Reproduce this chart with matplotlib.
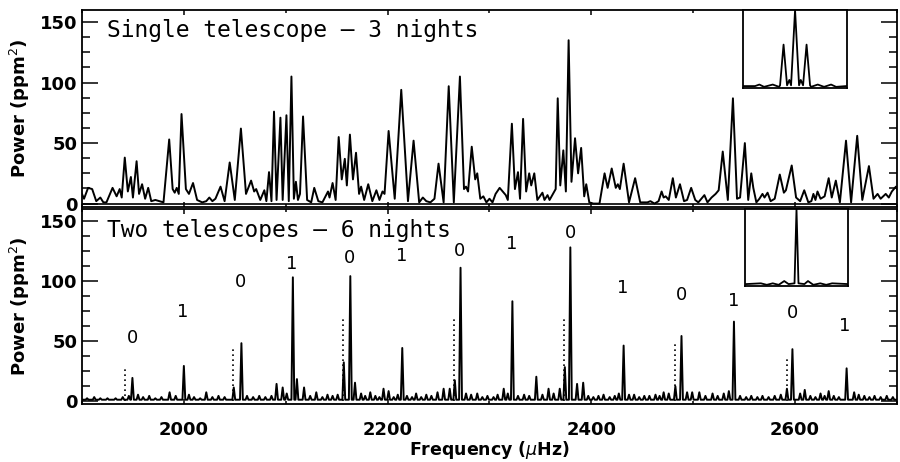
import numpy as np
import matplotlib
matplotlib.use('Agg')
import matplotlib.pyplot as plt
from matplotlib.ticker import MultipleLocator

# ==========================================
# DATA
# ==========================================
# Top panel: single telescope, 3 nights -- curve vertices (freq in uHz, power in ppm^2)
single_freq = [1900, 1902, 1906, 1910, 1914, 1918, 1921, 1924, 1930, 1934, 1937, 1939,
               1942, 1945, 1948, 1950, 1953.6, 1956, 1959, 1962, 1965, 1968, 1972, 1976,
               1980, 1985.6, 1989, 1991, 1993, 1995, 1997.7, 2002, 2005, 2009, 2013, 2018,
               2022, 2025, 2028, 2031, 2036, 2040, 2045, 2050, 2056, 2061, 2066, 2069,
               2071, 2075, 2079, 2081, 2083.6, 2086, 2088.5, 2091, 2094.8, 2097, 2100.7, 2103,
               2105.6, 2108, 2110, 2112, 2114, 2117, 2121, 2125, 2128, 2132, 2136, 2141.5,
               2143, 2146, 2149, 2152, 2155, 2158, 2160, 2163, 2166, 2169, 2172, 2174,
               2177, 2181, 2185, 2189, 2192, 2195, 2197, 2201, 2207, 2213.4, 2220, 2225.5,
               2231, 2234.6, 2238, 2242, 2246, 2250, 2255, 2260, 2265, 2271, 2275, 2277,
               2279, 2282.6, 2286, 2288, 2291, 2294, 2297, 2300, 2303, 2306, 2310, 2313,
               2316, 2318, 2322, 2325, 2328, 2330, 2333, 2336, 2339, 2341, 2344, 2347,
               2352, 2354, 2357, 2359, 2363, 2365, 2367, 2369.5, 2372.5, 2375, 2377.7, 2380.5,
               2384, 2387, 2390, 2393, 2395, 2398, 2402, 2408, 2413, 2416, 2420, 2424,
               2426, 2428, 2431.7, 2437, 2443, 2448, 2455, 2458, 2462, 2466, 2469, 2471,
               2473, 2476, 2480, 2483, 2487, 2491, 2494, 2498, 2502, 2505, 2508, 2511,
               2514, 2518, 2522, 2525, 2529, 2534, 2539, 2543, 2546, 2550.7, 2554, 2557,
               2559, 2562, 2565, 2568, 2570, 2573, 2576, 2580, 2585, 2589, 2591, 2596.7,
               2601, 2605, 2609, 2613, 2616, 2618, 2620, 2622, 2625, 2629, 2633, 2636,
               2640, 2644, 2650, 2655, 2661, 2666, 2672.5, 2677, 2681, 2684, 2689, 2692,
               2695, 2699, 2700]
single_pow = [8, 4, 13, 12, 2, 5, 1, 1, 13, 6, 12, 5,
              38, 10, 22, 5, 35, 8, 16, 4, 13, 2, 3, 2,
              1, 53, 12, 9, 13, 8, 74, 12, 8, 17, 3, 1,
              2, 5, 2, 4, 14, 2, 34, 3, 62, 8, 19, 10,
              12, 3, 11, 2, 26, 2, 76, 3, 71, 3, 73, 2,
              105, 4, 18, 3, 8, 72, 3, 1, 13, 2, 1, 10,
              5, 17, 3, 55, 20, 37, 15, 57, 20, 42, 8, 14,
              3, 16, 2, 11, 3, 10, 8, 60, 4, 94, 2, 52,
              1, 5, 2, 1, 4, 33, 1, 97, 1, 105, 12, 14,
              10, 47, 20, 25, 4, 6, 1, 4, 1, 8, 13, 10,
              7, 3, 66, 12, 26, 4, 70, 10, 25, 15, 25, 3,
              9, 3, 7, 3, 9, 12, 87, 15, 44, 10, 135, 18,
              54, 25, 46, 6, 16, 1, 0, 0, 25, 13, 29, 13,
              16, 12, 33, 1, 21, 1, 1, 2, 0, 2, 10, 5,
              6, 3, 21, 5, 16, 2, 3, 13, 3, 1, 4, 7,
              1, 5, 8, 11, 43, 3, 87, 4, 5, 50, 3, 25,
              13, 1, 4, 8, 5, 9, 2, 4, 24, 9, 11, 31.5,
              5, 2, 11, 1, 2, 8, 3, 10, 4, 6, 21, 5,
              19, 1, 52, 1, 56, 3, 31, 4, 8, 4, 8, 5,
              10, 14, 12]

# Bottom panel: two telescopes, 6 nights -- mode peaks and small noise peaks
mode_freq = [1949.5, 2000, 2056.5, 2107, 2163.4, 2214.4, 2271.6, 2322.5, 2379.4,
             2431.7, 2488.5, 2540, 2597.4, 2650.6]
mode_pow = [19, 29, 48, 103, 104, 44, 111, 83, 128, 46, 54, 66, 43, 27]
noise_freq = [1905, 1912, 1918, 1925, 1933, 1940, 1946, 1955, 1960, 1966, 1972, 1978,
              1986, 1992, 2005, 2010, 2016, 2022, 2028, 2034, 2040, 2049, 2062, 2068,
              2074, 2080, 2086, 2091, 2097, 2101, 2111, 2118, 2124, 2130, 2136, 2141,
              2146, 2151, 2157, 2168, 2174, 2178, 2183, 2188, 2192, 2196, 2201, 2206,
              2210, 2219, 2224, 2228, 2233, 2238, 2243, 2249, 2255, 2261, 2266, 2277,
              2282, 2288, 2293, 2298, 2304, 2308, 2314, 2318, 2328, 2334, 2339, 2346,
              2352, 2358, 2363, 2369, 2374, 2386, 2392, 2397, 2402, 2407, 2412, 2418,
              2423, 2427, 2437, 2442, 2447, 2452, 2457, 2463, 2467, 2471, 2476, 2482.5,
              2494, 2499, 2506, 2512, 2519, 2524, 2530, 2535, 2546, 2552, 2557, 2563,
              2568, 2574, 2580, 2586, 2592, 2605, 2609.5, 2615, 2620, 2625, 2629, 2633,
              2638, 2643, 2658, 2662.5, 2668, 2673, 2678, 2684, 2690, 2696]
noise_pow = [2, 3, 2, 2, 2, 3, 4, 5, 3, 4, 2, 3,
             7, 4, 5, 3, 2, 7, 3, 4, 3, 11, 4, 3,
             4, 3, 4, 14, 11, 6, 18, 11, 4, 7, 3, 5,
             4, 5, 32, 15, 6, 4, 7, 4, 3, 10, 8, 3,
             5, 4, 3, 6, 3, 5, 4, 7, 10, 10, 17, 6,
             5, 6, 3, 4, 3, 5, 10, 6, 4, 5, 4, 20,
             5, 10, 6, 10, 28, 14, 15, 4, 3, 4, 5, 3,
             4, 6, 5, 5, 3, 4, 4, 5, 4, 7, 6, 12,
             7, 7, 7, 4, 6, 4, 6, 8, 4, 3, 4, 3,
             4, 3, 4, 5, 10, 6, 9, 4, 3, 6, 4, 8,
             4, 3, 7, 5, 4, 3, 4, 3, 4, 3]

# Dotted markers (freq, height)
dot_freq = [1942, 2048.4, 2156, 2264.7, 2373.5, 2482, 2592]
dot_pow = [28, 46, 69, 70, 69, 47, 35]

# Mode degree labels
lab_freq = [1949.3, 1998.7, 2055.6, 2106.2, 2162.7, 2213.4, 2270.6, 2321.9, 2379.4,
            2430.7, 2488.5, 2539.5, 2597.4, 2648.7]
lab_pow = [52, 74, 99, 114, 119, 121, 125, 131, 140, 94, 88, 83, 73, 62]
lab_text = ['0', '1', '0', '1', '0', '1', '0', '1', '0', '1', '0', '1', '0', '1']

# Spectral windows for the insets (offset in uHz, normalised power)
win1_off = [-52, -40, -35.7, -31, -22.3, -16, -15, -11.5, -8, -5.7, -4, 0,
            4, 5.7, 8, 11.5, 15, 16, 22.7, 29, 36, 41, 51]
win1_pow = [0.01, 0.01, 0.03, 0.0, 0.03, 0.0, 0.02, 0.55, 0.02, 0.09, 0.02, 1.0,
            0.02, 0.09, 0.02, 0.55, 0.02, 0.0, 0.03, 0.0, 0.03, 0.0, 0.01]
win2_off = [-51, -36, -30, -24, -18, -12.4, -8, -2, 0, 2, 8, 11.6, 17, 24, 30, 36, 52]
win2_pow = [0.01, 0.02, 0.0, 0.02, 0.0, 0.05, 0.01, 0.02, 1.0, 0.02, 0.01, 0.05,
            0.0, 0.02, 0.0, 0.02, 0.01]


def spikes(freqs, heights, half_width, floor):
    # turn a list of peaks into a jagged line
    xs, ys = [1900], [floor]
    for f, h in sorted(zip(freqs, heights)):
        xs += [f - half_width, f, f + half_width]
        ys += [floor, h, floor]
    xs.append(2700)
    ys.append(floor)
    return xs, ys


two_x, two_y = spikes(mode_freq + noise_freq, mode_pow + noise_pow, 1.4, 0.8)

# ==========================================
# FIGURE
# ==========================================
plt.rcParams['font.family'] = 'DejaVu Sans'
fig = plt.figure(figsize=(9, 4.62), dpi=100)
ax1 = fig.add_axes([0.0911, 0.552, 0.9055, 0.4264])
ax2 = fig.add_axes([0.0911, 0.1255, 0.9055, 0.422])

LW = 1.4
ax1.plot(single_freq, single_pow, color='black', lw=LW)
ax1.axhline(0, color='black', lw=1.2)
ax2.plot(two_x, two_y, color='black', lw=LW)
ax2.vlines(dot_freq, 0, dot_pow, colors='black', linestyles=(0, (1, 2)), lw=1.2)
for f, p, t in zip(lab_freq, lab_pow, lab_text):
    ax2.text(f, p, t, ha='center', va='center', fontsize=13)

# the original lettering is wide, a monospaced face gets the same extent
ax1.text(0.031, 0.895, 'Single telescope \u2013 3 nights', transform=ax1.transAxes,
         fontsize=16.5, va='center', ha='left', family='DejaVu Sans Mono')
ax2.text(0.031, 0.89, 'Two telescopes \u2013 6 nights', transform=ax2.transAxes,
         fontsize=16.5, va='center', ha='left', family='DejaVu Sans Mono')

for ax in (ax1, ax2):
    ax.set_xlim(1900, 2700)
    ax.set_ylim(-2.8, 160)
    ax.xaxis.set_major_locator(MultipleLocator(200))
    ax.xaxis.set_minor_locator(MultipleLocator(100))
    ax.yaxis.set_major_locator(MultipleLocator(50))
    ax.yaxis.set_minor_locator(MultipleLocator(12.5))
    ax.tick_params(axis='both', which='both', direction='in', top=True, right=True,
                   width=1.1, labelsize=13)
    ax.tick_params(axis='y', which='major', length=11.5, pad=3)
    ax.tick_params(axis='y', which='minor', length=5.8)
    ax.tick_params(axis='x', which='major', length=3.5, pad=12)
    ax.tick_params(axis='x', which='minor', length=2.5)
    for lab in ax.get_xticklabels() + ax.get_yticklabels():
        lab.set_fontweight('bold')
    for s in ax.spines.values():
        s.set_linewidth(1.3)
    ax.set_ylabel('Power (ppm$^2$)', fontsize=13, fontweight='bold', labelpad=6)

ax1.tick_params(axis='x', labelbottom=False)
ax2.set_xlabel(r'Frequency ($\mu$Hz)', fontsize=12.5, fontweight='bold', labelpad=0)

# insets with the spectral windows
in1 = fig.add_axes([0.8256, 0.8095, 0.1156, 0.1688])
in1.plot(win1_off, win1_pow, color='black', lw=1.3)
in2 = fig.add_axes([0.8278, 0.381, 0.1144, 0.1667])
in2.plot(win2_off, win2_pow, color='black', lw=1.3)
for ax in (in1, in2):
    ax.set_xlim(-52, 52)
    ax.set_ylim(-0.015, 1.0)
    ax.set_xticks([])
    ax.set_yticks([])
    for s in ax.spines.values():
        s.set_linewidth(1.3)

fig.savefig('out.png', dpi=100)
